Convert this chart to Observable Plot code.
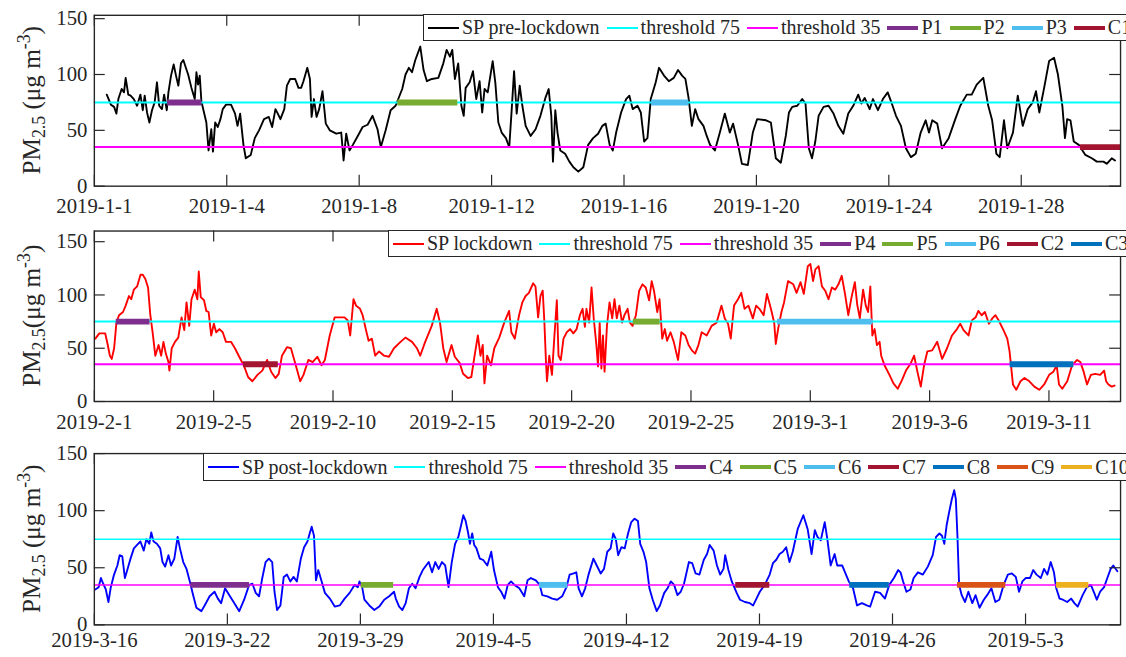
<!DOCTYPE html>
<html><head><meta charset="utf-8">
<script src="https://cdn.jsdelivr.net/npm/d3@7"></script>
<script src="https://cdn.jsdelivr.net/npm/@observablehq/plot@0.6"></script>
<style>
html,body{margin:0;padding:0;background:#fff;overflow:hidden;}
#fig{position:relative;width:1126px;height:657px;overflow:hidden;font-family:"Liberation Serif","Times New Roman",serif;color:#262626;background:#fff;}
#fig svg, #fig svg text{font-family:"Liberation Serif","Times New Roman",serif !important;}
.panel{position:absolute;left:0;}
.legend{position:absolute;border:1.5px solid #262626;background:#fff;display:flex;align-items:center;white-space:nowrap;font-size:20px;padding-left:4px;box-sizing:border-box;width:max-content;}
.item{display:flex;align-items:center;margin-right:7px;}
.swatch{display:inline-block;width:31px;margin-right:3px;}
</style></head><body><div id="fig"></div><script>
// ---------- data (hour index from start of each period, PM2.5 in ug/m3) ----------
const preHours = [9,12,14.3,16,17.4,19.8,21.5,22.7,24.6,26.3,28.6,31,33.4,35.1,36.5,38.2,39.9,41.8,43.7,45.4,47,49,50.6,52.5,53.7,55.6,57.5,59.2,60.9,62.8,64.5,66.1,68,70.4,72.8,74,75.2,76.4,77.6,79.5,81.2,82.8,84.8,86,87.6,89.5,91.4,93.1,95.5,99.1,102,103.8,105.7,108.1,109.8,113.4,116.3,119.4,123,126.5,128.9,131.3,133,134.9,137.7,139.6,142,145.6,148,149.9,151.6,154.4,156.3,157.5,159.2,161.1,163,165.4,167.8,170.7,175.4,179,180.7,182.6,185,187.4,191,194.5,198.1,201.7,205.3,207.7,211.2,214.8,218.4,223.2,225.6,228,230.3,232.7,236.3,238.7,241.1,244.7,249.4,253,255.4,257.8,259.5,261.4,263.8,266.1,267.8,269.2,272.1,274.5,276.9,279.3,281.2,282.9,285.2,288.8,290.7,292.9,295.3,298.4,300.8,302.4,304.3,306.2,308.4,310.3,312.7,316.3,319.9,323.4,327,329.4,331.3,332.5,334.2,335.8,337.8,341.3,344.4,347.3,350.9,354.5,358,361.6,365.2,368.3,370.7,373.6,375.9,378.3,381.9,385.5,387.9,390.3,393.8,396.2,398.6,401,403.4,407,409.4,413,416.5,420.1,423.2,426.1,428.5,430.8,433.2,435.6,438,441.6,444,446.4,449.9,453.5,457.1,460.7,463.1,466.7,469.5,473.8,477.4,480.5,487,490.5,494.1,497.7,501.3,503.6,506,509.6,513.2,515.6,518,520.3,522.7,525.1,528.7,532.3,535.9,539.4,543,546.6,550.2,553.8,556.1,558.5,562.1,564.5,568.1,571.7,575.2,577.6,581.2,584.8,588.4,592,595.5,599.1,602.7,605.1,607.5,611.1,614.6,619.4,624.2,627.8,632.5,636.1,639.7,644.5,648.1,650.9,654,656.4,659.5,661.9,666,669.5,673.1,676.7,680.3,682.7,685.1,688.6,692.2,695.8,698.6,701.8,703.7,705.3,707.7,710.1,713.7,718.5,723.2,726.8,731.6,734,737.6,740];
const prePM = [82,73,71,65,78,87,84,97,82,81,78,72,82,68,81,66,57,68,75,93,72,69,82,68,84,99,109,99,90,110,113,107,100,88,78,102,91,99,76,66,57,32,51,31,57,53,60,69,73,73,65,54,65,37,25,28,43,50,60,62,53,69,65,60,69,90,96,96,88,88,94,106,96,62,78,62,69,85,56,50,47,48,23,47,32,37,45,53,55,63,51,35,50,68,72,87,100,106,102,113,125,104,94,96,97,110,122,116,122,96,110,72,63,88,93,103,78,94,66,87,84,112,93,57,48,43,35,65,103,65,90,72,54,45,51,63,79,87,63,22,68,48,32,29,22,17,13,17,37,43,47,54,56,37,32,48,66,78,81,69,72,66,40,43,78,93,106,99,94,97,104,99,96,79,54,69,60,54,45,37,32,48,65,48,56,37,20,19,48,60,59,57,25,21,45,66,71,72,78,74,34,25,40,63,71,72,65,54,47,65,72,82,74,79,69,78,68,78,84,76,63,54,34,26,29,48,59,48,59,56,34,43,60,72,82,82,91,97,72,59,29,26,59,34,48,81,54,69,75,85,66,88,112,115,100,72,43,60,59,40,37,28,25,22,22,20,25,23];

const lockHours = [1,5,10.9,13.3,15.6,17.5,19.9,22.2,24.8,28.8,31.5,34.8,37.1,39.7,43,46.4,48.7,51.3,54,56.3,58.6,61.3,64.6,67.2,69.5,71.9,74.5,75.5,77.8,81.1,84.4,87.7,90.4,92.7,95.4,97.7,101,103.6,105,107,110.3,112.6,114.9,117.5,120.2,122.5,125.8,129.1,132.4,137.4,141.4,145.7,150.7,154.6,158.9,164,168.9,173.8,177.8,182.1,185.4,188.7,193.7,197.7,202,207,210.3,215.2,219.5,224.2,228.5,231.8,236.7,241.7,246.7,251.6,254.9,257.3,260.6,263.2,267.2,269.8,273.2,275.8,279.1,282.4,286.4,291.4,296.3,301.3,307.9,312.8,319.5,324.4,327.7,332.7,339.3,344.3,347.6,350.9,354.2,359.2,362.5,367.5,370.8,375.7,379.1,382.4,385.7,388.3,390.6,392.3,395,398.9,402.2,407.2,412.2,417.1,419.4,422.8,427.1,430.4,433.7,437,441.3,443.6,446.3,448.6,450.9,452.5,454.2,455.2,457.5,460.2,462.5,465.1,466.8,469.1,471.8,475.1,478.4,481.7,485,488.3,491,493.3,494.9,497.6,500,502.2,504.9,506.5,508.2,509.9,511.5,513.1,515.5,518.1,520.8,523.1,525.4,528,530.7,533,536.3,538.6,541.3,544.6,547.9,551.2,554.5,557.9,560.5,562.8,566.1,568.4,571.1,573.7,576,579.4,582.7,587,590.3,594.3,597.6,600.9,604.2,607.5,610.8,615.8,620.8,625.7,630.7,634,637.3,640,643.3,647.3,650.6,653.9,657.8,662.2,665.5,668.8,673.1,676.4,680.4,683.7,685.3,687.6,691,693.6,697.6,702.9,706.2,710.2,713.5,717.5,720.1,722.8,725.1,728.4,731.7,735,738.3,741.7,745,748.3,751.6,754.9,758.2,761.5,764.8,767.2,769.8,773.1,775.8,778.1,780.4,782.4,784.7,787,789.7,791.3,794.6,799.6,803.6,807.9,812.2,816.2,821.1,824.4,827.7,831.1,834.4,837.7,842.6,847.6,852.6,857.5,862.5,867.5,870.8,874.1,879.1,882.4,886.3,889,892.3,895.6,899.6,903,906.2,909.5,913.8,918.1,920.4,923.8,927.1,931.4,935.4,940.3,945.3,950.3,955.2,960.2,964.5,967.8,970.1,973.4,978.4,983.3,988.3,991.6,994.9,998.3,1002.2,1006.5,1011.5,1015.5,1017.5,1019.8,1023.1,1026];
const lockPM = [59,64,64,54,43,40,50,74,81,84,90,99,96,105,108,119,119,115,107,81,65,43,53,43,56,45,37,29,50,56,60,79,67,93,71,96,105,96,122,98,95,85,84,62,73,65,68,65,56,56,50,42,33,23,19,25,29,39,28,22,26,43,51,50,36,19,25,39,37,42,34,39,62,79,79,79,76,62,96,90,87,81,67,57,59,43,47,43,42,50,56,60,56,50,43,56,71,87,74,50,37,53,42,36,26,22,23,43,62,43,53,17,43,34,50,60,74,85,65,59,81,93,99,102,111,108,79,99,104,76,37,19,43,25,59,95,43,39,59,65,68,64,68,81,87,70,87,74,107,78,53,33,74,31,62,28,71,93,78,96,78,90,74,81,87,74,71,81,104,110,107,95,113,104,84,96,59,68,57,65,56,39,65,62,53,48,45,53,65,62,71,74,90,78,73,59,90,96,102,87,90,78,90,87,81,101,87,74,54,68,84,93,113,110,102,112,101,127,129,113,124,127,108,104,96,107,105,110,118,101,81,98,112,91,78,105,90,84,108,62,68,53,56,43,34,25,17,12,20,29,36,43,28,14,34,47,48,56,40,50,62,68,73,67,62,76,79,85,81,84,73,78,81,76,68,59,47,16,11,19,22,19,14,11,16,25,28,34,16,12,19,34,39,37,28,16,25,26,25,29,19,16,14,15];

const postHours = [1.2,5.4,8.3,11.2,14.5,17.8,20.8,24.9,29.1,32,35.3,38.6,41.6,45.7,49.9,54,58.2,62.4,65.7,69.4,71.9,74.8,79,83.2,86.1,89.4,93.6,96.9,101,105.2,108.1,112.3,116.4,120.6,124.8,128.9,135.2,139.3,145.6,151.8,156,160.1,165.1,170.5,176.8,183,189.2,195.5,199.7,203.8,208,212.1,216.3,220.4,224.6,227.5,230.8,235,239.2,243.3,247.5,251.6,255.8,260.8,264.9,269.1,272.4,274.5,277.4,279.9,282.8,285.8,291.2,297.4,303.6,309.9,316.1,322.4,328.6,332.8,334.8,338.2,341.1,347.3,353.6,359.8,366.1,372.3,378.5,380.7,384.9,389,393.2,397.3,401.5,405.7,410.7,414.8,419,422.3,426.5,430.6,434.8,439,443.1,447.3,451.4,455.6,459.7,463.1,466,468.9,472.2,474.3,477.2,479.7,482.6,486.8,490.9,496.3,501.3,504.7,509.7,513.8,518,522.1,526.3,530.5,536.7,542.9,547.1,551.3,557.5,562.5,565.8,572.1,578.3,584.5,590.8,596.2,600.3,605.3,608.7,611.6,615.8,619.9,624.1,630.3,634.5,639.5,643.6,647.8,652,655.3,658.6,661.5,665.7,669.8,674,678.1,682.3,686.5,689.4,693.5,696.9,701,705.2,710.2,714.3,719.7,723.9,728,732.2,736.4,740.5,744.7,750.9,755.1,759.3,764.2,769.7,773.8,777.1,782.1,786.3,790.4,794.6,796.7,800.8,805,811.2,815.4,821.6,827.9,832,836.2,840.4,846.6,852.9,857,861.2,865.4,869.5,873.7,877.9,882,888.3,895.4,900.8,905.8,909.9,913.2,917.4,922.4,925.7,929.9,934.9,938.2,944.4,948.6,952.8,958.2,963.2,969.4,975.6,979.8,986,992.3,998.5,1003.9,1009.8,1015.2,1018.1,1021.4,1025.6,1030.6,1034.7,1040.1,1046.4,1052.6,1058.8,1063,1067.2,1070.5,1073.4,1076.3,1079.6,1082.9,1085.9,1088,1090,1092.1,1095.4,1099.6,1103.8,1108.8,1112.9,1117.9,1123.3,1127.5,1132.9,1137.9,1142.9,1148.3,1153.7,1158.7,1163.7,1167.8,1172,1176.2,1181.6,1185.7,1189.9,1195.3,1199.4,1203.6,1207.8,1211.9,1214.8,1219,1223.2,1228.6,1233.6,1237.7,1241.9,1248.1,1253.5,1258.5,1262.7,1266,1270.2,1275.2,1279.3,1283.5,1286.8,1292];
const postPM = [31,33,41,36,31,20,33,44,52,61,60,41,48,58,67,70,73,65,75,71,81,73,71,67,55,51,61,52,58,77,67,55,49,38,26,15,12,17,25,29,23,19,32,26,19,12,22,35,36,28,25,41,55,58,55,29,13,17,42,44,38,42,38,58,68,73,81,86,78,39,48,41,28,23,16,17,23,28,35,33,38,33,22,17,13,16,22,25,29,23,16,13,19,32,36,32,42,48,52,55,46,55,49,55,52,33,55,71,77,87,96,91,80,71,80,70,67,58,57,52,64,48,33,29,23,35,38,35,32,25,39,41,39,35,26,25,23,22,25,33,44,45,46,32,25,32,44,58,52,45,49,64,67,80,75,61,68,67,80,90,93,91,71,64,55,32,22,12,17,28,32,38,35,26,29,36,55,54,45,44,57,62,70,65,52,44,49,61,48,38,28,22,20,19,17,23,29,35,44,54,57,62,64,68,55,64,84,96,84,62,83,77,74,90,75,52,62,52,52,45,38,32,17,19,17,16,29,28,23,35,41,48,46,38,29,31,41,46,44,51,61,77,80,78,71,87,99,110,118,110,78,35,26,20,29,19,26,15,22,26,32,20,22,35,44,45,42,29,38,41,41,48,44,41,49,44,55,46,32,23,22,20,23,19,16,26,33,35,28,22,29,33,41,49,52,47];

// thresholds
const thresholdValues = [75, 35];
const thresholdLabels = ["threshold 75", "threshold 35"];
const thresholdColors = ["#00FFFF", "#FF00FF"];

// episodes: name, start hour, end hour, level
const preEpisodeNames = ["P1", "P2", "P3", "C1"];
const preEpisodeStart = [53, 220, 404, 715];
const preEpisodeEnd = [78, 263.5, 431, 744];
const preEpisodeLevel = [75, 75, 75, 35];

const lockEpisodeNames = ["P4", "P5", "P6", "C2", "C3"];
const lockEpisodeStart = [22, 542, 687, 150, 921];
const lockEpisodeEnd = [56, 569, 783, 185, 985];
const lockEpisodeLevel = [75, 75, 75, 35, 35];

const postEpisodeNames = ["C4", "C5", "C6", "C7", "C8", "C9", "C10"];
const postEpisodeStart = [122, 337, 562, 810, 954, 1090, 1215];
const postEpisodeEnd = [196, 378, 598, 853, 1004, 1151, 1256];
const postEpisodeLevel = [35, 35, 35, 35, 35, 35, 35];

const episodeColors = ["#7E2F8E", "#77AC30", "#4DBEEE", "#A2142F", "#0072BD", "#D95319", "#EDB120"];

// axis ticks
const preTickHours = [0, 96, 192, 288, 384, 480, 576, 672];
const preTickLabels = ["2019-1-1", "2019-1-4", "2019-1-8", "2019-1-12", "2019-1-16", "2019-1-20", "2019-1-24", "2019-1-28"];
const lockTickHours = [0, 120, 240, 360, 480, 600, 720, 840, 960];
const lockTickLabels = ["2019-2-1", "2019-2-5", "2019-2-10", "2019-2-15", "2019-2-20", "2019-2-25", "2019-3-1", "2019-3-6", "2019-3-11"];
const postTickHours = [0, 168, 336, 504, 672, 840, 1008, 1176];
const postTickLabels = ["2019-3-16", "2019-3-22", "2019-3-29", "2019-4-5", "2019-4-12", "2019-4-19", "2019-4-26", "2019-5-3"];
const yTicks = [0, 50, 100, 150];

// ---------- drawing ----------
const INK = "#262626";
const FONT = '"Liberation Serif","Times New Roman",serif';
const fig = document.getElementById("fig");

const panels = [
  {name: "SP pre-lockdown", color: "#000000", hours: preHours, pm: prePM, xMax: 744, yMax: 153,
   ticks: preTickHours, tickLabels: preTickLabels, eNames: preEpisodeNames, eStart: preEpisodeStart, eEnd: preEpisodeEnd, eLevel: preEpisodeLevel,
   top: 0, height: 218, mt: 15, mb: 30, xPad: 12, thrW: 2, labelGap: true, legend: {left: 423, top: 14, h: 27}},
  {name: "SP lockdown", color: "#FF0000", hours: lockHours, pm: lockPM, xMax: 1032, yMax: 160,
   ticks: lockTickHours, tickLabels: lockTickLabels, eNames: lockEpisodeNames, eStart: lockEpisodeStart, eEnd: lockEpisodeEnd, eLevel: lockEpisodeLevel,
   top: 218, height: 218, mt: 12.7, mb: 32.7, xPad: 13, thrW: 2, labelGap: false, legend: {left: 388, top: 230, h: 27}},
  {name: "SP post-lockdown", color: "#0000FF", hours: postHours, pm: postPM, xMax: 1296, yMax: 150,
   ticks: postTickHours, tickLabels: postTickLabels, eNames: postEpisodeNames, eStart: postEpisodeStart, eEnd: postEpisodeEnd, eLevel: postEpisodeLevel,
   top: 436, height: 221, mt: 17.3, mb: 30.3, xPad: 8, thrW: 1.5, labelGap: true, legend: {left: 203, top: 453, h: 28}}
];

const W = 1140, ML = 95, MR = 6;

panels.forEach(p => {
  const plotW = W - ML - MR;
  const plotH = p.height - p.mt - p.mb;
  const series = p.hours.map((h, i) => ({h, v: p.pm[i]}));
  const episodes = p.eNames.map((n, i) => ({name: n, start: p.eStart[i], end: p.eEnd[i], level: p.eLevel[i], color: episodeColors[i]}));
  const svg = Plot.plot({
    width: W, height: p.height,
    marginLeft: ML, marginRight: MR, marginTop: p.mt, marginBottom: p.mb,
    x: {domain: [0, p.xMax]},
    y: {domain: [0, p.yMax]},
    style: {fontFamily: FONT, fontSize: "21px", color: INK, background: "transparent", overflow: "visible"},
    marks: [
      Plot.line(series, {x: "h", y: "v", stroke: p.color, strokeWidth: 1.9, strokeLinejoin: "round"}),
      ...thresholdValues.map((t, i) => Plot.ruleY([t], {stroke: thresholdColors[i], strokeWidth: p.thrW})),
      ...episodes.map(e => Plot.ruleY([e], {y: "level", x1: "start", x2: "end", stroke: e.color, strokeWidth: 6})),
      Plot.ruleX(p.ticks, {insetTop: plotH - 11, stroke: INK, strokeWidth: 1.2}),
      Plot.ruleX(p.ticks, {insetBottom: plotH - 11, stroke: INK, strokeWidth: 1.2}),
      Plot.ruleY(yTicks, {insetRight: plotW - 11, stroke: INK, strokeWidth: 1.2}),
      Plot.ruleY(yTicks, {insetLeft: plotW - 11, stroke: INK, strokeWidth: 1.2}),
      Plot.axisX(p.ticks, {tickSize: 0, tickPadding: p.xPad, label: null, fill: INK, fontFamily: FONT, fontSize: 21,
        tickFormat: d => p.tickLabels[p.ticks.indexOf(d)]}),
      Plot.axisY(yTicks, {tickSize: 0, tickPadding: 7, label: null, fill: INK, fontFamily: FONT, fontSize: 21}),
      Plot.frame({stroke: INK, strokeWidth: 1.4})
    ]
  });
  const wrap = document.createElement("div");
  wrap.className = "panel";
  wrap.style.top = p.top + "px";
  wrap.appendChild(svg);
  fig.appendChild(wrap);

  // y-axis title with sub/superscripts
  const cy = p.mt + plotH / 2;
  const t = d3.select(svg).append("text")
    .attr("transform", `translate(40,${cy}) rotate(-90)`)
    .attr("text-anchor", "middle").attr("fill", INK)
    .style("font-family", FONT).style("font-size", "25.5px");
  t.append("tspan").text("PM");
  t.append("tspan").attr("dy", 6).style("font-size", "18px").text("2.5");
  t.append("tspan").attr("dy", -6).text(p.labelGap ? " (\u03bcg m" : "(\u03bcg m");
  t.append("tspan").attr("dy", -10).style("font-size", "18px").text("-3");
  t.append("tspan").attr("dy", 10).text(")");

  // legend (horizontal, top-right, extends past the edge like the reference)
  const lg = document.createElement("div");
  lg.className = "legend";
  lg.style.left = p.legend.left + "px";
  lg.style.top = p.legend.top + "px";
  lg.style.height = p.legend.h + "px";
  const entries = [{label: p.name, color: p.color, w: 2}]
    .concat(thresholdLabels.map((l, i) => ({label: l, color: thresholdColors[i], w: 2})))
    .concat(episodes.map(e => ({label: e.name, color: e.color, w: 4})));
  entries.forEach(e => {
    const it = document.createElement("span");
    it.className = "item";
    const sw = document.createElement("span");
    sw.className = "swatch";
    sw.style.height = e.w + "px";
    sw.style.background = e.color;
    const tx = document.createElement("span");
    tx.textContent = e.label;
    it.appendChild(sw); it.appendChild(tx);
    lg.appendChild(it);
  });
  fig.appendChild(lg);
});
</script></body></html>
